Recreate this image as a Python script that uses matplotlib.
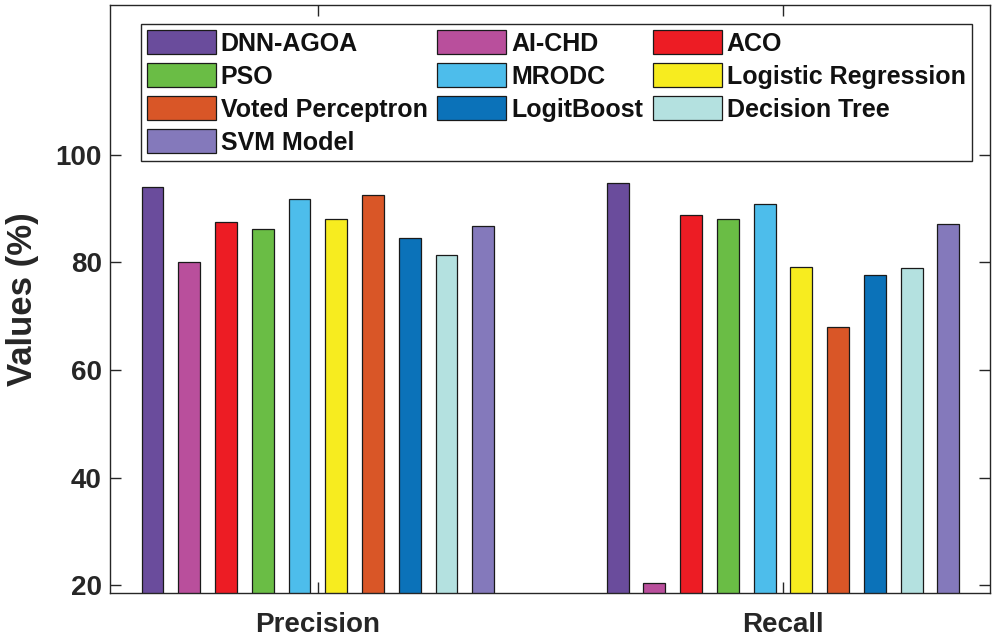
import numpy as np
import matplotlib
matplotlib.use("Agg")
import matplotlib.pyplot as plt

plt.rcParams['font.family'] = ['Liberation Sans', 'DejaVu Sans']
plt.rcParams['font.weight'] = 'bold'

# data
metrics = ["Precision", "Recall"]
models = ["DNN-AGOA", "AI-CHD", "ACO", "PSO", "MRODC", "Logistic Regression",
          "Voted Perceptron", "LogitBoost", "Decision Tree", "SVM Model"]
precision = [93.9, 80.0, 87.4, 86.1, 91.8, 88.0, 92.5, 84.5, 81.4, 86.8]
recall = [94.8, 20.4, 88.7, 88.0, 90.8, 79.2, 67.9, 77.6, 79.0, 87.1]
colors = ["#6a4c9c", "#b94f9c", "#ed1c24", "#6abd45", "#4dbdeb", "#f7ec1f",
          "#d95627", "#0b72b9", "#b4e1e0", "#8479bb"]
yticks = [20, 40, 60, 80, 100]

fig = plt.figure(figsize=(9.96, 6.38), dpi=100)
ax = fig.add_axes([110/996, 1-592.7/638, 880/996, 587.7/638])

x = np.array([1, 2])
step = 0.079
width = 0.047
vals = np.array([precision, recall])
handles = []
for i, m in enumerate(models):
    b = ax.bar(x + (i - 4.5) * step, vals[:, i], width, color=colors[i],
               edgecolor="#1a1a1a", linewidth=0.9, label=m)
    handles.append(b)

ax.set_xlim(0.553, 2.445)
ax.set_ylim(18.6, 127.8)
ax.set_xticks(x)
ax.set_xticklabels(metrics, fontsize=20, fontweight='bold', color="#262626")
ax.set_yticks(yticks)
ax.set_yticklabels([str(t) for t in yticks], fontsize=20, fontweight='bold', color="#262626")
ax.tick_params(direction='in', length=8, width=1, colors="#262626",
               top=True, right=True, pad=6)
ax.tick_params(axis='x', pad=14)
for s in ax.spines.values():
    s.set_color("#262626")
    s.set_linewidth(1)
ax.set_ylabel("Values (%)", fontsize=25, fontweight='bold', color="#262626", labelpad=12)

# matplotlib fills legend column-wise, reference is row-wise
order = [0, 3, 6, 9, 1, 4, 7, 2, 5, 8]
leg = ax.legend([handles[k] for k in order], [models[k] for k in order],
                ncol=3, loc="upper left", bbox_to_anchor=(140.5/996, 1-24/638),
                bbox_transform=fig.transFigure, fontsize=18, frameon=True,
                fancybox=False, framealpha=1, edgecolor="#262626",
                handlelength=2.75, handleheight=1.1, handletextpad=0.2,
                columnspacing=0.4, labelspacing=0.3, borderpad=0.25,
                borderaxespad=0)
leg.get_frame().set_linewidth(1)
for t in leg.get_texts():
    t.set_color("#111111")

fig.savefig("out.png", dpi=100)
